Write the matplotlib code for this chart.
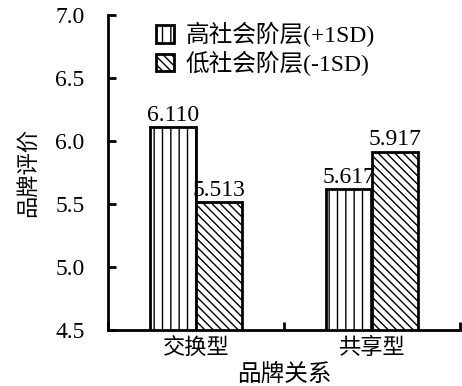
import numpy as np
import matplotlib
matplotlib.use("Agg")
from matplotlib import pyplot as plt

plt.rcParams['font.family'] = ['Liberation Serif', 'Noto Sans CJK SC']
plt.rcParams['hatch.linewidth'] = 1.0
plt.rcParams['hatch.color'] = 'black'

categories = ['交换型', '共享型']
high_sc = [6.110, 5.617]
low_sc = [5.513, 5.917]
series_names = ['高社会阶层(+1SD)', '低社会阶层(-1SD)']

x = np.arange(len(categories))
w = 0.26

fig = plt.figure(figsize=(4.62, 3.86), dpi=100)
ax = fig.add_axes([0.234, 0.145, 0.762, 0.816])

b1 = ax.bar(x - w / 2, high_sc, w, color='white', edgecolor='black',
            linewidth=2, hatch='||', label=series_names[0])
b2 = ax.bar(x + w / 2, low_sc, w, color='white', edgecolor='black',
            linewidth=2, hatch='\\\\\\\\', label=series_names[1])

# value labels sitting right on top of each bar
for bars, vals in [(b1, high_sc), (b2, low_sc)]:
    for r, v in zip(bars, vals):
        ax.text(r.get_x() + r.get_width() / 2, v + 0.008, '%.3f' % v,
                ha='center', va='bottom', fontsize=17)

ax.set_ylim(4.5, 7.0)
ax.set_xlim(-0.5, 1.5)
yt = np.arange(4.5, 7.01, 0.5)
ax.set_yticks(yt)
ax.set_yticklabels(['%.1f' % t for t in yt])
ax.set_xticks([-0.5, 0.5, 1.5])
ax.set_xticklabels([])
ax.set_xticks(x, minor=True)
ax.set_xticklabels(categories, minor=True)
ax.tick_params(axis='x', which='major', direction='in', length=6, width=2)
ax.tick_params(axis='x', which='minor', length=0, labelsize=16, pad=6)
ax.tick_params(axis='y', direction='in', length=6, width=2, labelsize=17, pad=17)

for s in ['top', 'right']:
    ax.spines[s].set_visible(False)
for s in ['left', 'bottom']:
    ax.spines[s].set_linewidth(2)

ax.set_ylabel('品牌评价', fontsize=16, labelpad=12)
ax.set_xlabel('品牌关系', fontsize=17, labelpad=3)

ax.legend(loc='upper left', bbox_to_anchor=(0.09, 1.03), frameon=False,
          fontsize=17, handlelength=0.75, handleheight=0.75,
          handletextpad=0.5, labelspacing=0.15, borderaxespad=0.3)

fig.savefig('out.png', dpi=100)
